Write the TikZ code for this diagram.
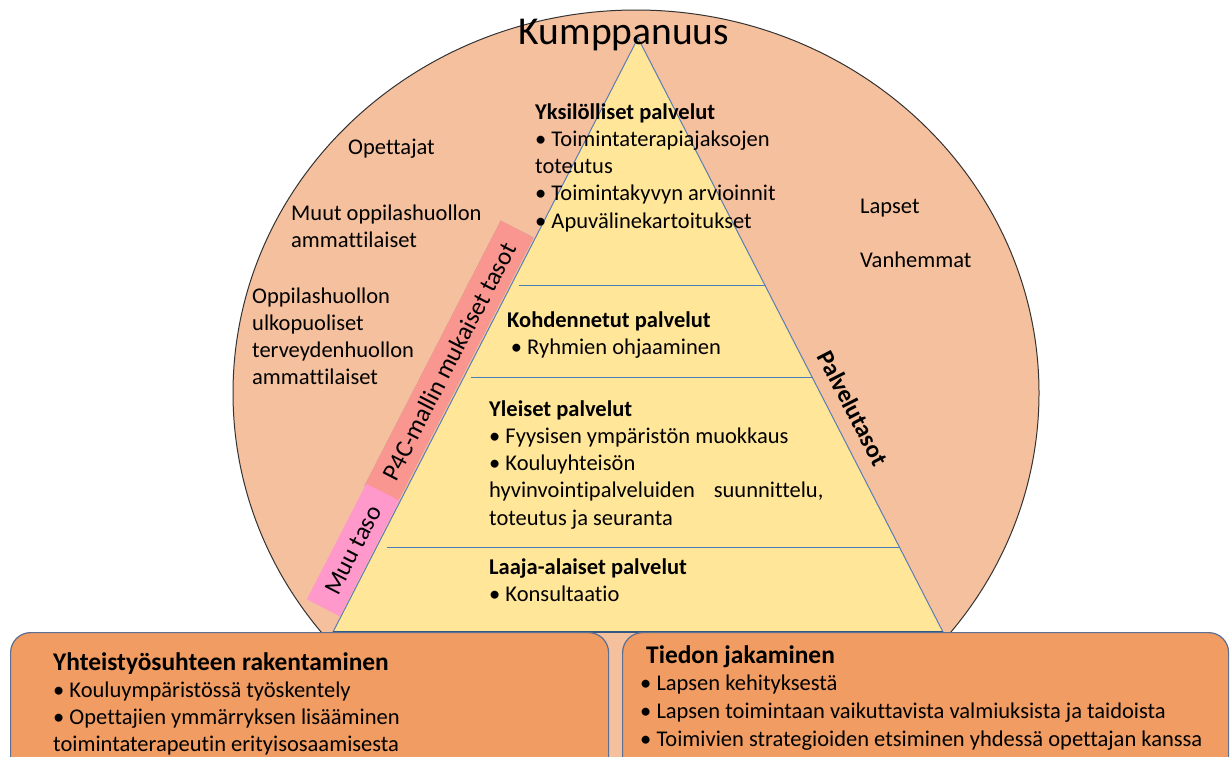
\documentclass[tikz,border=0pt]{standalone}
\usepackage{fontspec}
\setmainfont{Carlito}[Ligatures=NoCommon]
\usetikzlibrary{calc}
\definecolor{peach}{HTML}{F5C09D}
\definecolor{pyr}{HTML}{FFE699}
\definecolor{boxfill}{HTML}{F09C62}
\definecolor{boxline}{HTML}{5B6F93}
\definecolor{p4cfill}{HTML}{F8968F}
\definecolor{muufill}{HTML}{FF99CC}
\definecolor{lvl}{HTML}{4A7EBB}
\definecolor{triline}{HTML}{5B7DB5}
\tikzset{
  txt/.style={font=\fontsize{22.5}{27.3}\selectfont, align=left, anchor=base west, inner sep=0pt},
  ttl/.style={font=\fontsize{25.4}{30}\selectfont\bfseries, anchor=base west, inner sep=0pt},
  bbox/.style={draw=boxline, line width=1.2pt, fill=boxfill, rounded corners=20pt, anchor=north west, inner sep=0pt},
  side/.style={font=\fontsize{25}{30}\selectfont, inner sep=0pt, rotate=62.8},
  lvlline/.style={draw=lvl, line width=1pt},
}
\begin{document}
\begin{tikzpicture}[x=1pt,y=-1pt]
\useasboundingbox (0,0) rectangle (1230,756);
\begin{scope}
  \clip (0,0) rectangle (1230,756);
  \draw[black!80, line width=1pt, fill=peach] (636,393) ellipse [x radius=403, y radius=383];
\end{scope}
% side boxes
\node[side, fill=p4cfill, draw=black!40, dotted, minimum width=298pt, minimum height=37pt] (p4c) at (449,361.5) {P4C-mallin mukaiset tasot};
\node[side, fill=muufill, minimum width=130pt, minimum height=37pt] (muu) at (353,550) {Muu taso};
% pyramid
\coordinate (A) at (638,38);
\coordinate (L) at (333,632);
\coordinate (R) at (943,632);
\draw[draw=triline, line width=1pt, fill=pyr] (A) -- (L) -- (R) -- cycle;
\draw[lvlline] ($(A)!0.416!(L)+(8,0)$) -- ($(A)!0.416!(R)$);
\draw[lvlline] ($(A)!0.571!(L)+(7,0)$) -- ($(A)!0.571!(R)$);
\draw[lvlline] ($(A)!0.857!(L)+(10,0)$) -- ($(A)!0.857!(R)$);
\draw[draw=lvl!70!black, line width=2pt] (L) -- (R);
\node[font=\fontsize{39.5}{44}\selectfont, anchor=base, inner sep=0pt] (kump) at (624,44) {Kumppanuus};
\node[font=\fontsize{24.5}{28}\selectfont\bfseries, rotate=-62.8, inner sep=0pt] (palv) at (853,408) {Palvelutasot};
% circle texts (anchor = baseline of last line)
\node[txt] (opet) at (348,154) {Opettajat};
\node[txt] (muut) at (291,247.3) {Muut oppilashuollon\\ammattilaiset};
\node[txt] (oppi) at (252,384.9) {Oppilashuollon\\ulkopuoliset\\terveydenhuollon\\ammattilaiset};
\node[txt] (laps) at (860,213) {Lapset};
\node[txt] (vanh) at (860,267) {Vanhemmat};
% pyramid texts
\node[txt] (yks) at (535,228.2) {\textbf{Yksilölliset palvelut}\\• Toimintaterapiajaksojen\\toteutus\\• Toimintakyvyn arvioinnit\\• Apuvälinekartoitukset};
\node[txt] (koh) at (507,354.3) {\textbf{Kohdennetut palvelut}\\\,• Ryhmien ohjaaminen};
\node[txt] (yle) at (489,525.2) {\textbf{Yleiset palvelut}\\• Fyysisen ympäristön muokkaus\\• Kouluyhteisön\\hyvinvointipalveluiden\hspace{14pt} suunnittelu,\\toteutus ja seuranta};
\node[txt] (laa) at (489,601.3) {\textbf{Laaja-alaiset palvelut}\\• Konsultaatio};
% bottom boxes
\node[bbox, minimum width=598pt, minimum height=150pt] (b1) at (10,632) {};
\node[bbox, minimum width=606pt, minimum height=150pt] (b2) at (622,632) {};
\node[ttl] (b1t) at (53,670) {Yhteistyösuhteen rakentaminen};
\node[txt] (b1b) at (53,751.6) {• Kouluympäristössä työskentely\\• Opettajien ymmärryksen lisääminen\\toimintaterapeutin erityisosaamisesta};
\node[ttl] (b2t) at (646,663) {Tiedon jakaminen};
\node[txt, font=\fontsize{22.5}{28}\selectfont] (b2b) at (640,746) {• Lapsen kehityksestä\\• Lapsen toimintaan vaikuttavista valmiuksista ja taidoista\\• Toimivien strategioiden etsiminen yhdessä opettajan kanssa};
\end{tikzpicture}
\end{document}
